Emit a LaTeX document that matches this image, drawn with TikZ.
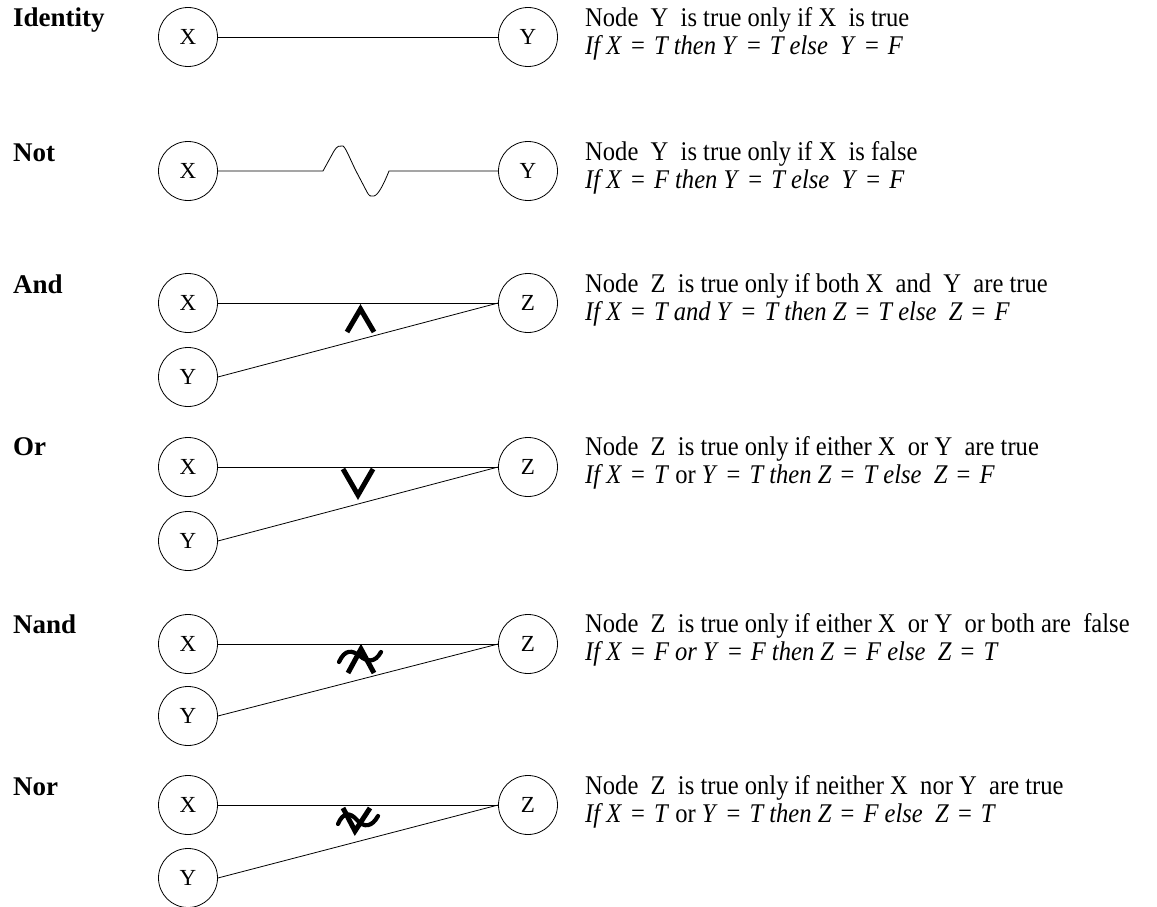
\documentclass[tikz,border=0pt]{standalone}
\usepackage{fontspec}
\setmainfont[FakeStretch=0.91]{Liberation Serif}
\newfontfamily\lblfont{Liberation Serif}
\newcommand{\eqs}{\,\,=\,\,}
\begin{document}
\begin{tikzpicture}[x=1pt,y=-1pt]
\tikzset{
 vnode/.style={draw, circle, minimum size=59pt, inner sep=0pt, line width=0.8pt, font=\lblfont\fontsize{23}{23}\selectfont},
 lbl/.style={anchor=base west, inner sep=0pt, font=\lblfont\fontsize{27}{27}\selectfont\bfseries},
 desc/.style={anchor=base west, inner sep=0pt, font=\fontsize{27}{27}\selectfont},
 edge/.style={line width=0.8pt},
 sym/.style={line width=5pt, line join=miter},
 tld/.style={line width=4.2pt, line cap=round}
}
\useasboundingbox (0,0) rectangle (1157,907);
% labels
\node[lbl] (lid) at (13,27) {Identity};
\node[lbl] (lnot) at (13,161) {Not};
\node[lbl] (land) at (13,293) {And};
\node[lbl] (lor) at (13,455) {Or};
\node[lbl] (lnand) at (13,633) {Nand};
\node[lbl] (lnor) at (13,795) {Nor};
% identity
\node[vnode] (ix) at (188,37) {X};
\node[vnode] (iy) at (528,37) {Y};
\draw[edge] (ix) -- (iy);
% not
\node[vnode] (nx) at (188,171) {X};
\node[vnode] (ny) at (528,171) {Y};
\coordinate (w1) at (323,171);
\coordinate (w2) at (389,171);
\draw[edge] (nx) -- (w1) -- (334,151) .. controls (337,146) and (340,145) .. (343,146)
  .. controls (346,148) and (350,159) .. (356,171) -- (367,192)
  .. controls (369,196) and (371,197) .. (374,196)
  .. controls (378,195) and (383,186) .. (w2) -- (ny);
% and
\node[vnode] (ax) at (188,303) {X};
\node[vnode] (ay) at (188,377) {Y};
\node[vnode] (az) at (528,303) {Z};
\draw[edge] (ax) -- (az);
\draw[edge] (ay.east) -- (az.west);
\draw[sym] (347,332) -- (360.5,309) -- (374,332);
% or
\node[vnode] (ox) at (188,467) {X};
\node[vnode] (oy) at (188,541) {Y};
\node[vnode] (oz) at (528,467) {Z};
\draw[edge] (ox) -- (oz);
\draw[edge] (oy.east) -- (oz.west);
\draw[sym] (343,469) -- (358,495) -- (373,469);
% nand
\node[vnode] (dx) at (188,644) {X};
\node[vnode] (dy) at (188,716) {Y};
\node[vnode] (dz) at (528,644) {Z};
\draw[edge] (dx) -- (dz);
\draw[edge] (dy.east) -- (dz.west);
\draw[sym] (348,673) -- (361,649) -- (374,673);
\draw[tld] (339,662) .. controls (345,649) and (352,650) .. (360,656) .. controls (367,662) and (375,663) .. (381,652);
% nor
\node[vnode] (rx) at (188,805) {X};
\node[vnode] (ry) at (188,878) {Y};
\node[vnode] (rz) at (528,805) {Z};
\draw[edge] (rx) -- (rz);
\draw[edge] (ry.east) -- (rz.west);
\draw[sym] (343,808) -- (355,831) -- (370,808);
\draw[tld] (338,824) .. controls (343,812) and (350,812) .. (357,820) .. controls (364,828) and (372,827) .. (378,816);
% descriptions
\node[desc] (t1a) at (585,27) {Node\ \ Y\ \ is true only if X\ \ is true};
\node[desc] (t1b) at (585,55) {\textit{If X}\eqs\textit{T then Y}\eqs\textit{T else\ \ Y}\eqs\textit{F}};
\node[desc] (t2a) at (585,160) {Node\ \ Y\ \ is true only if X\ \ is false};
\node[desc] (t2b) at (585,188) {\textit{If X}\eqs\textit{F then Y}\eqs\textit{T else\ \ Y}\eqs\textit{F}};
\node[desc] (t3a) at (585,292) {Node\ \ Z\ \ is true only if both X\ \ and\ \ Y\ \ are true};
\node[desc] (t3b) at (585,320) {\textit{If X}\eqs\textit{T and Y}\eqs\textit{T then Z}\eqs\textit{T else\ \ Z}\eqs\textit{F}};
\node[desc] (t4a) at (585,455) {Node\ \ Z\ \ is true only if either X\ \ or Y\ \ are true};
\node[desc] (t4b) at (585,483) {\textit{If X}\eqs\textit{T} or \textit{Y}\eqs\textit{T then Z}\eqs\textit{T else\ \ Z}\eqs\textit{F}};
\node[desc] (t5a) at (585,632) {Node\ \ Z\ \ is true only if either X\ \ or Y\ \ or both are\ \ false};
\node[desc] (t5b) at (585,660) {\textit{If X}\eqs\textit{F or Y}\eqs\textit{F then Z}\eqs\textit{F else\ \ Z}\eqs\textit{T}};
\node[desc] (t6a) at (585,794) {Node\ \ Z\ \ is true only if neither X\ \ nor Y\ \ are true};
\node[desc] (t6b) at (585,822) {\textit{If X}\eqs\textit{T} or \textit{Y}\eqs\textit{T then Z}\eqs\textit{F else\ \ Z}\eqs\textit{T}};
\end{tikzpicture}
\end{document}
